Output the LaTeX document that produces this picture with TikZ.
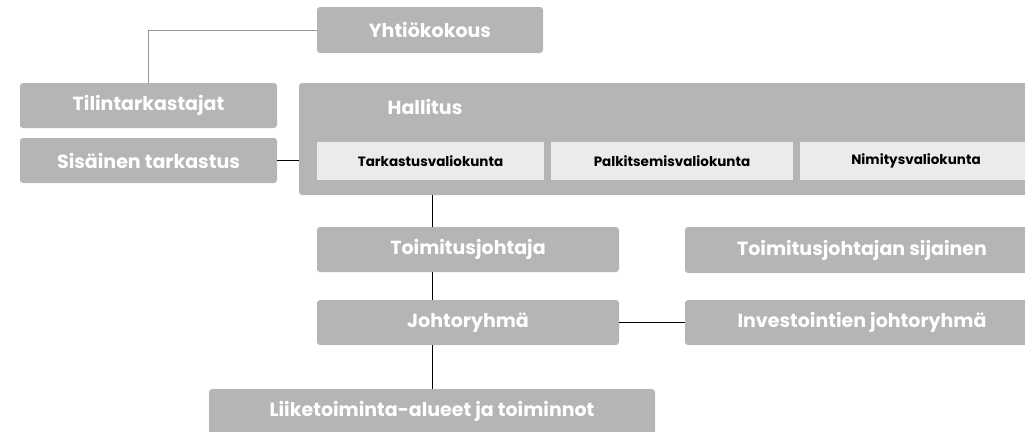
\documentclass[tikz,border=0pt]{standalone}
\usepackage{fontspec}
\setmainfont{Poppins}
\usepackage{tikz}
\usetikzlibrary{positioning}
\definecolor{boxgray}{RGB}{180, 181, 183}
\definecolor{subgray}{RGB}{234, 235, 235}
\definecolor{linegray}{RGB}{150, 150, 150}

\begin{document}
\begin{tikzpicture}[
    x=1pt, y=-1pt,
    unit/.style={
      rectangle,
      rounded corners=3pt,
      minimum height=45pt,
      inner sep=0pt,
      fill=boxgray,
      text=white,
      font=\bfseries\fontsize{19}{22}\selectfont
    },
    committee/.style={
      rectangle,
      minimum height=38pt,
      inner sep=0pt,
      fill=subgray,
      text=black,
      font=\bfseries\fontsize{13.5}{16}\selectfont
    },
    link/.style={line width=0.8pt, color=black},
    auditlink/.style={line width=0.8pt, color=linegray}
  ]
    \useasboundingbox (0,0) rectangle (1025,431);

    \node[unit, minimum width=226pt, minimum height=46pt] (yhtio) at (430,30) {Yhtiökokous};
    \node[unit, minimum width=257pt] (tilin) at (148.5,105.5) {Tilintarkastajat};
    \node[unit, minimum width=257pt] (sisainen) at (148.5,160.5) {Sisäinen tarkastus};

    % hallitus with its committees
    \node[unit, minimum width=741pt, minimum height=112pt] (hallitus) at (669.5,139) {};
    \node[text=white, font=\bfseries\fontsize{19}{22}\selectfont] (hallitusotsikko) at (425,107) {Hallitus};
    \node[committee, minimum width=227pt] (tarkastus) at (430.5,161) {Tarkastusvaliokunta};
    \node[committee, minimum width=242pt] (palkitsemis) at (672,161) {Palkitsemisvaliokunta};
    \node[committee, minimum width=232pt] (nimitys) at (916,161) {Nimitysvaliokunta};

    \node[unit, minimum width=302pt] (toimitus) at (468,249.5) {Toimitusjohtaja};
    \node[unit, minimum width=354pt, minimum height=46pt] (sijainen) at (862,250) {Toimitusjohtajan sijainen};
    \node[unit, minimum width=302pt] (johto) at (468,322.5) {Johtoryhmä};
    \node[unit, minimum width=354pt] (invest) at (862,322.5) {Investointien johtoryhmä};
    \node[unit, minimum width=446pt] (liike) at (432,411.5) {Liiketoiminta-alueet ja toiminnot};

    \draw[auditlink] (yhtio.west) -| (tilin.north);
    \draw[link] (sisainen.east) -- (sisainen.east -| hallitus.west);
    \draw[link] (liike.north |- hallitus.south) -- (liike.north |- toimitus.north);
    \draw[link] (liike.north |- toimitus.south) -- (liike.north |- johto.north);
    \draw[link] (liike.north |- johto.south) -- (liike.north);
    \draw[link] (johto.east) -- (invest.west);
  \end{tikzpicture}
\end{document}
